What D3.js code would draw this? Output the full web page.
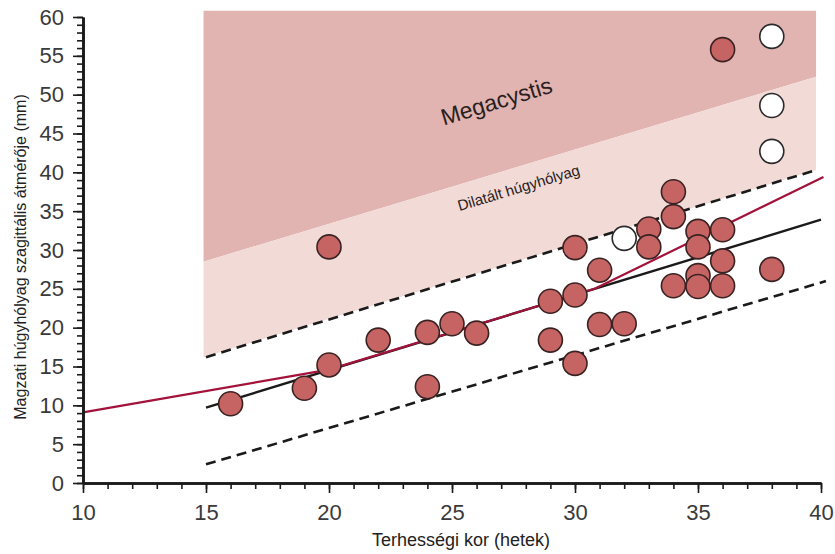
<!DOCTYPE html>
<html>
<head>
<meta charset="utf-8">
<script src="https://cdn.jsdelivr.net/npm/d3@7"></script>
<style>
  body { margin: 0; background: #fff; }
  text { font-family: "Liberation Sans", Arial, sans-serif; }
</style>
</head>
<body>
<svg id="chart" width="835" height="554"></svg>
<script>
// measured points: [week, diameter mm]
var filled = [
  [16, 10.2], [19, 12.2], [20, 15.2], [20, 30.4], [22, 18.4],
  [24, 19.4], [24, 12.4], [25, 20.5], [26, 19.3],
  [29, 23.4], [29, 18.4], [30, 30.3], [30, 24.2], [30, 15.4],
  [31, 27.4], [31, 20.4], [32, 20.5], [33, 32.7], [33, 30.4],
  [34, 37.5], [34, 34.3], [34, 25.4],
  [35, 32.4], [35, 30.4], [35, 26.7], [35, 25.3],
  [36, 32.6], [36, 28.6], [36, 25.4], [36, 55.8], [38, 27.5]
];
var open = [[32, 31.5], [38, 57.5], [38, 48.6], [38, 42.7]];

// zones
var megacystis = [[14.9, 28.5], [14.9, 60.8], [39.8, 60.8], [39.8, 52.3]];
var dilated = [[14.9, 16.2], [14.9, 28.5], [39.8, 52.3], [39.8, 40.3]];

// lines
var meanLine = [[15, 9.7], [40, 33.9]];
var upperLine = [[15, 16.2], [39.8, 40.3]];
var lowerLine = [[15, 2.4], [40.2, 26.0]];
var redLine = [[10, 9.1], [20, 14.6], [30.8, 25.0], [40.1, 39.4]];

var svg = d3.select("#chart");

var x = d3.scaleLinear().domain([10, 40]).range([83, 821]);
var y = d3.scaleLinear().domain([0, 60]).range([483, 17]);

var line = d3.line()
    .x(function(d) { return x(d[0]); })
    .y(function(d) { return y(d[1]); });

// shaded zones
svg.append("path").attr("d", line(megacystis) + "Z").attr("fill", "#e1b4b1");
svg.append("path").attr("d", line(dilated) + "Z").attr("fill", "#f2dad7");

// zone labels
var angle = Math.atan((y(52.3) - y(28.5)) / (x(39.8) - x(14.9))) * 180 / Math.PI;
svg.append("text")
    .attr("transform", "translate(497,103) rotate(" + angle + ")")
    .attr("text-anchor", "middle").attr("dominant-baseline", "middle")
    .style("font-size", "23px").attr("fill", "#2a2020")
    .text("Megacystis");
svg.append("text")
    .attr("transform", "translate(519,189) rotate(" + angle + ")")
    .attr("text-anchor", "middle").attr("dominant-baseline", "middle")
    .style("font-size", "15px").attr("fill", "#2a2020")
    .text("Dilatált húgyhólyag");

// dashed limits
[upperLine, lowerLine].forEach(function(l) {
  svg.append("path").attr("d", line(l))
      .attr("fill", "none").attr("stroke", "#1a1a1a")
      .attr("stroke-width", 2.6).attr("stroke-dasharray", "10,6");
});

// regression lines
svg.append("path").attr("d", line(meanLine))
    .attr("fill", "none").attr("stroke", "#1a1a1a").attr("stroke-width", 2.4);
svg.append("path").attr("d", line(redLine))
    .attr("fill", "none").attr("stroke", "#a3123a").attr("stroke-width", 2.2);

// points
svg.selectAll("circle.filled")
    .data(filled)
    .enter()
    .append("circle")
    .attr("class", "filled")
    .attr("cx", function(d) { return x(d[0]); })
    .attr("cy", function(d) { return y(d[1]); })
    .attr("r", 12)
    .attr("fill", "#c66463")
    .attr("stroke", "#3a2222")
    .attr("stroke-width", 1.6);

svg.selectAll("circle.open")
    .data(open)
    .enter()
    .append("circle")
    .attr("class", "open")
    .attr("cx", function(d) { return x(d[0]); })
    .attr("cy", function(d) { return y(d[1]); })
    .attr("r", 12)
    .attr("fill", "#fff")
    .attr("stroke", "#2a2a2a")
    .attr("stroke-width", 1.6);

// axes: minor ticks every 1, major every 5
function styleAxis(g) {
  g.selectAll("path.domain").attr("stroke", "#1a1a1a").attr("stroke-width", 2.6);
  g.selectAll(".tick line").attr("stroke", "#1a1a1a").attr("stroke-width", 1.6);
  g.selectAll(".tick text").attr("fill", "#3a3a3a").style("font-size", "22px")
      .style("font-family", "'Liberation Sans', Arial, sans-serif");
}

svg.append("g")
    .attr("transform", "translate(0,483)")
    .call(d3.axisBottom(x).tickValues(d3.range(10, 41, 1)).tickSize(6).tickFormat("").tickSizeOuter(0))
    .call(styleAxis);
svg.append("g")
    .attr("transform", "translate(0,483)")
    .call(d3.axisBottom(x).tickValues(d3.range(10, 41, 5)).tickSize(10).tickSizeOuter(0).tickPadding(11))
    .call(styleAxis);

svg.append("g")
    .attr("transform", "translate(83,0)")
    .call(d3.axisLeft(y).tickValues(d3.range(0, 61, 1)).tickSize(6).tickFormat("").tickSizeOuter(0))
    .call(styleAxis);
svg.append("g")
    .attr("transform", "translate(83,0)")
    .call(d3.axisLeft(y).tickValues(d3.range(0, 61, 5)).tickSize(10).tickSizeOuter(0).tickPadding(9))
    .call(styleAxis);

// axis titles
svg.append("text")
    .attr("x", 461).attr("y", 546)
    .attr("text-anchor", "middle")
    .style("font-size", "18px").attr("fill", "#222")
    .text("Terhességi kor (hetek)");
svg.append("text")
    .attr("transform", "translate(26,257) rotate(-90)")
    .attr("text-anchor", "middle")
    .style("font-size", "16px").attr("fill", "#222")
    .text("Magzati húgyhólyag szagittális átmérője (mm)");
</script>
</body>
</html>
